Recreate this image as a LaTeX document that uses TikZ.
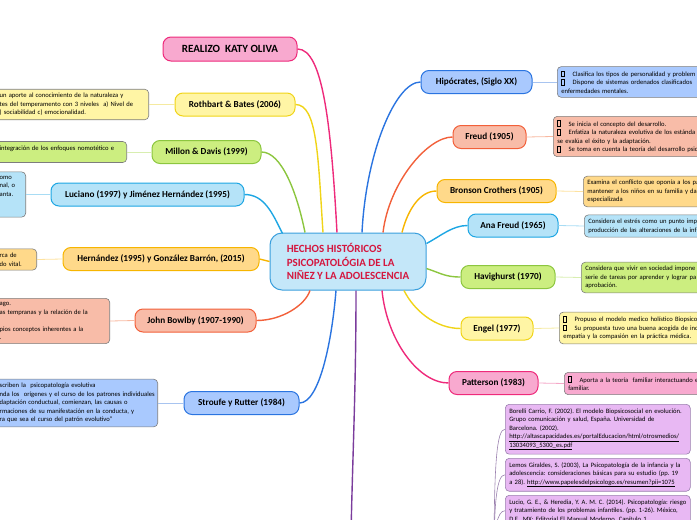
\documentclass[tikz,border=0pt]{standalone}
\usepackage{fontspec}
\setmainfont{Carlito}
\definecolor{pinkline}{HTML}{EE2A7B}
\definecolor{pinkfill}{HTML}{F8A9CF}
\definecolor{pinktwig}{HTML}{F5A8C8}
\definecolor{yellowline}{HTML}{F0D418}
\definecolor{yellowfill}{HTML}{FFF5A5}
\definecolor{yellowtwig}{HTML}{F5EAA0}
\definecolor{greenline}{HTML}{8CC63F}
\definecolor{greenfill}{HTML}{CCEE80}
\definecolor{greentwig}{HTML}{D8EEB0}
\definecolor{skyline}{HTML}{1DA6E3}
\definecolor{skyfill}{HTML}{B5E3F8}
\definecolor{skytwig}{HTML}{A8DCF4}
\definecolor{orangeline}{HTML}{F7B500}
\definecolor{orangefill}{HTML}{FFD98A}
\definecolor{orangetwig}{HTML}{FDE2A0}
\definecolor{salmonline}{HTML}{F2603A}
\definecolor{salmonfill}{HTML}{F8BCA8}
\definecolor{salmontwig}{HTML}{F8B8A0}
\definecolor{blueline}{HTML}{2A74E0}
\definecolor{bluefill}{HTML}{A9C9FE}
\definecolor{bluetwig}{HTML}{A8C4F0}
\definecolor{purpleline}{HTML}{7B3C9C}
\definecolor{lilacfill}{HTML}{E8B8F3}
\definecolor{lilacline}{HTML}{9A80AE}
\definecolor{notegray}{HTML}{7D7D7D}
\definecolor{hechosfill}{HTML}{C4E7F9}
\definecolor{hechosline}{HTML}{3A9FDD}
\definecolor{hechostext}{HTML}{D4173F}
\newcommand\boxbullet{{\setlength\fboxsep{0pt}\setlength\fboxrule{0.25pt}\fbox{\rule{0pt}{5.5pt}\rule{2.8pt}{0pt}}}\hspace{8pt}}
\tikzset{
  topicbox/.style={draw, line width=1pt, rounded corners=8pt, minimum height=23pt, inner sep=2pt, font=\fontsize{9.2}{10}\selectfont\bfseries},
  notebox/.style={draw=notegray, line width=0.6pt, rounded corners=4pt, align=left, inner xsep=4pt, inner ysep=4pt, font=\fontsize{6.6}{8.5}\selectfont\frenchspacing},
  branch/.style={line width=1.4pt},
  twig/.style={line width=0.8pt},
}
\begin{document}
\begin{tikzpicture}[x=1pt,y=1pt]
    \useasboundingbox (0,0) rectangle (697,-520);
    \clip (0,0) rectangle (697,-520);
    \node[draw=hechosline, fill=hechosfill, line width=1pt, rounded corners=12pt, minimum width=156pt, minimum height=57pt, text=hechostext, align=left, font=\fontsize{11}{13.5}\selectfont\bfseries] (hechos) at (348,-261.5) {HECHOS HISTÓRICOS\\ PSICOPATOLÓGIA DE LA\\ NIÑEZ Y LA ADOLESCENCIA};
    \node[topicbox, draw=pinkline, fill=pinkfill, minimum width=134pt, minimum height=24pt, font=\fontsize{11}{12}\selectfont\bfseries] (realizo) at (230,-49) {REALIZO\ \ KATY OLIVA};
    \node[topicbox, draw=yellowline, fill=yellowfill, minimum width=120pt] (rothbart) at (235,-104.5) {Rothbart \& Bates (2006)};
    \node[topicbox, draw=greenline, fill=greenfill, minimum width=109pt] (millon) at (206.5,-152) {Millon \& Davis (1999)};
    \node[topicbox, draw=skyline, fill=skyfill, minimum width=193pt] (luciano) at (147.5,-194.5) {Luciano (1997) y Jiménez Hernández (1995)};
    \node[topicbox, draw=orangeline, fill=orangefill, minimum width=196pt] (hernandez) at (161,-259) {Hernández (1995) y González Barrón, (2015)};
    \node[topicbox, draw=salmonline, fill=salmonfill, minimum width=121pt] (bowlby) at (195.5,-320.5) {John Bowlby (1907-1990)};
    \node[topicbox, draw=blueline, fill=bluefill, minimum width=115pt] (stroufe) at (241.5,-403) {Stroufe y Rutter (1984)};
    \node[topicbox, draw=blueline, fill=bluefill, minimum width=111pt] (hipocrates) at (476.5,-82) {Hipócrates, (Siglo XX)};
    \node[topicbox, draw=salmonline, fill=salmonfill, minimum width=73pt] (freud) at (489.5,-137) {Freud (1905)};
    \node[topicbox, draw=orangeline, fill=orangefill, minimum width=119pt] (bronson) at (496.5,-191) {Bronson Crothers (1905)};
    \node[topicbox, draw=skyline, fill=skyfill, minimum width=90pt] (anafreud) at (513,-225.5) {Ana Freud (1965)};
    \node[topicbox, draw=greenline, fill=greenfill, minimum width=94pt] (havighurst) at (508,-277) {Havighurst (1970)};
    \node[topicbox, draw=yellowline, fill=yellowfill, minimum width=72pt] (engel) at (497,-328.5) {Engel (1977)};
    \node[topicbox, draw=pinkline, fill=pinkfill, minimum width=89pt] (patterson) at (493.5,-383) {Patterson (1983)};
    \node[notebox, fill=yellowfill, text width=145pt, anchor=east] (rothbartnote) at (149,-104.5) {un aporte al conocimiento de la naturaleza y\\ tes del temperamento con 3 niveles\ \ a) Nivel de\\ ) sociabilidad c) emocionalidad.};
    \node[notebox, fill=greenfill, text width=123pt, anchor=east] (millonnote) at (127,-152) {integración de los enfoques nomotético e\\ \mbox{}};
    \node[notebox, fill=skyfill, text width=22pt, anchor=east] (luciannote) at (26,-194.5) {omo\\ nal, o\\ anta.\\ \mbox{}\\ \mbox{}};
    \node[notebox, fill=orangefill, text width=33pt, anchor=east] (hernandeznote) at (37,-259.5) {rca de\\ do vital.};
    \node[notebox, fill=salmonfill, text width=106pt, anchor=east] (bowlbynote) at (110,-321) {ago.\\ as tempranas y la relación de la\\ \mbox{}\\ pios conceptos inherentes a la\\ .};
    \node[notebox, fill=bluefill, text width=154pt, anchor=east] (stroufenote) at (158,-403) {scriben la\ \ psicopatología evolutiva\\ \mbox{nda los\ \ orígenes y el curso de los patrones individuales}\\ daptación conductual, comienzan, las causas o\\ rmaciones de su manifestación en la conducta, y\\ ra que sea el curso del patrón evolutivo”};
    \node[notebox, fill=bluefill, text width=200pt, anchor=west] (hipocratesnote) at (557,-82) {\boxbullet Clasifica los tipos de personalidad y problem\\ \boxbullet Dispone de sistemas ordenados clasificados\\ enfermedades mentales.};
    \node[notebox, fill=salmonfill, text width=200pt, anchor=west] (freudnote) at (553,-136.5) {\boxbullet Se inicia el concepto del desarrollo.\\ \boxbullet Enfatiza la naturaleza evolutiva de los estánda\\ se evalúa el éxito y la adaptación.\\ \boxbullet Se toma en cuenta la teoría del desarrollo psic};
    \node[notebox, fill=orangefill, text width=200pt, anchor=west] (bronsonnote) at (583,-191.5) {Examina el conflicto que oponía a los pa\\ mantener a los niños en su familia y dar\\ especializada};
    \node[notebox, fill=skyfill, text width=200pt, anchor=west] (anafreudnote) at (584,-226) {Considera el estrés como un punto imp\\ producción de las alteraciones de la inf};
    \node[notebox, fill=greenfill, text width=200pt, anchor=west] (havighurstnote) at (581,-277.5) {Considera que vivir en sociedad impone\\ serie de tareas por aprender y lograr pa\\ aprobación.};
    \node[notebox, fill=yellowfill, text width=200pt, anchor=west] (engelnote) at (559,-328) {\boxbullet Propuso el modelo medico holístico Biopsico\\ \boxbullet Su propuesta tuvo una buena acogida de inc\\ empatía y la compasión en la práctica médica.};
    \node[notebox, fill=pinkfill, text width=200pt, anchor=west] (pattersonnote) at (564,-383.5) {\boxbullet Aporta a la teoría\ \ familiar interactuando e\\ familiar.};
    \node[notebox, draw=lilacline, fill=lilacfill, text width=177pt, anchor=north west] (ref1) at (505,-404) {Borelli Carrio, F. (2002). El modelo Biopsicosocial en evolución.\\ Grupo comunicación y salud, España. Universidad de\\ Barcelona. (2002).\\ \underline{http://altascapacidades.es/portalEducacion/html/otrosmedios/}\\ \underline{13034093\_5300\_es.pdf}};
    \node[notebox, draw=lilacline, fill=lilacfill, text width=177pt, anchor=north west] (ref2) at (505,-458) {Lemos Giraldes, S. (2003), La Psicopatología de la infancia y la\\ adolescencia: consideraciones básicas para su estudio (pp. 19\\ a 28). \underline{http://www.papelesdelpsicologo.es/resumen?pii=1075}};
    \node[notebox, draw=lilacline, fill=lilacfill, text width=177pt, anchor=north west] (ref3) at (505,-495) {\mbox{Lucio, G. E., \& Heredia, Y. A. M. C. (2014). Psicopatología: riesgo}\\ y tratamiento de los problemas infantiles. (pp. 1-26). México,\\ D.F., MX: Editorial El Manual Moderno. Capítulo 1.};
    \coordinate (referencias) at (350,-600);
    \coordinate (refhub) at (494,-560);
    \draw[branch, pinkline] ([xshift=-11pt]hechos.north) .. controls +(-6,110) and +(25,0) .. (realizo.east);
    \draw[branch, yellowline] ([xshift=-25pt]hechos.north) .. controls +(-5,75) and +(22,0) .. (rothbart.east);
    \draw[branch, greenline] ([xshift=-43pt]hechos.north) .. controls +(-8,40) and +(20,0) .. (millon.east);
    \draw[branch, skyline] ([shift={+(13pt,-1pt)}]hechos.north west) .. controls +(-10,20) and +(20,0) .. (luciano.east);
    \draw[branch, orangeline] (hechos.west) -- (hernandez.east);
    \draw[branch, salmonline] ([xshift=-38pt]hechos.south) .. controls +(-5,-15) and +(25,0) .. (bowlby.east);
    \draw[branch, blueline] ([xshift=-12pt]hechos.south) .. controls +(-4,-50) and +(20,0) .. (stroufe.east);
    \draw[branch, purpleline] ([xshift=8pt]hechos.south) .. controls +(0,-120) and +(1,120) .. (referencias);
    \draw[branch, blueline] ([xshift=14pt]hechos.north) .. controls +(4,80) and +(-25,0) .. (hipocrates.west);
    \draw[branch, salmonline] ([xshift=35pt]hechos.north) .. controls +(6,50) and +(-25,0) .. (freud.west);
    \draw[branch, orangeline] ([xshift=54pt]hechos.north) .. controls +(5,20) and +(-18,0) .. (bronson.west);
    \draw[branch, skyline] ([yshift=18pt]hechos.east) .. controls +(15,8) and +(-15,0) .. (anafreud.west);
    \draw[branch, greenline] ([yshift=-7pt]hechos.east) .. controls +(15,-5) and +(-15,0) .. (havighurst.west);
    \draw[branch, yellowline] ([xshift=56pt]hechos.south) .. controls +(10,-20) and +(-25,0) .. (engel.west);
    \draw[branch, pinkline] ([xshift=34pt]hechos.south) .. controls +(5,-50) and +(-30,0) .. (patterson.west);
    \draw[twig, yellowtwig] (rothbart.west) -- (rothbartnote.east);
    \draw[twig, greentwig] (millon.west) -- (millonnote.east);
    \draw[twig, skytwig] (luciano.west) -- (luciannote.east);
    \draw[twig, orangetwig] (hernandez.west) -- (hernandeznote.east);
    \draw[twig, salmontwig] (bowlby.west) -- (bowlbynote.east);
    \draw[twig, bluetwig] (stroufe.west) -- (stroufenote.east);
    \draw[twig, bluetwig] (hipocrates.east) -- (hipocratesnote.west);
    \draw[twig, salmontwig] (freud.east) -- (freudnote.west);
    \draw[twig, orangetwig] (bronson.east) -- (bronsonnote.west);
    \draw[twig, skytwig] (anafreud.east) -- (anafreudnote.west);
    \draw[twig, greentwig] (havighurst.east) -- (havighurstnote.west);
    \draw[twig, yellowtwig] (engel.east) -- (engelnote.west);
    \draw[twig, pinktwig] (patterson.east) -- (pattersonnote.west);
    \draw[line width=0.6pt, lilacline] (refhub) .. controls +(0,100) and +(-8,0) .. (ref1.west);
    \draw[line width=0.6pt, lilacline] (refhub) .. controls +(0,60) and +(-8,0) .. (ref2.west);
    \draw[line width=0.6pt, lilacline] (refhub) .. controls +(0,30) and +(-8,0) .. (ref3.west);
\end{tikzpicture}
\end{document}
